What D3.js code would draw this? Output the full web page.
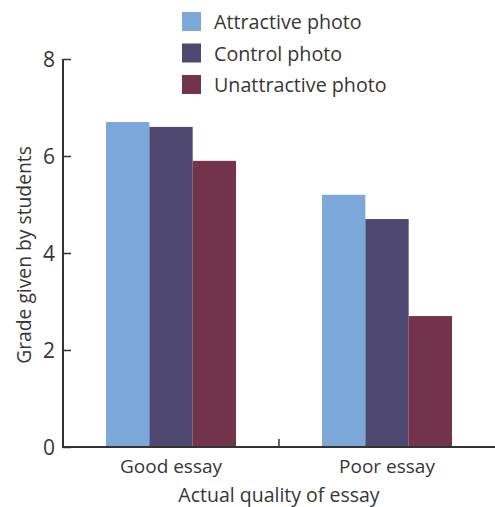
<!DOCTYPE html>
<html>
<head>
<meta charset="utf-8">
<script src="https://cdn.jsdelivr.net/npm/d3@7"></script>
<style>
  html, body { margin: 0; padding: 0; background: #fff; }
  text { font-family: "Open Sans", "Noto Sans", sans-serif; fill: #363636; }
</style>
</head>
<body>
<svg id="chart" width="495" height="507"></svg>
<script>
// Grades given to essays, grouped by essay quality and photo condition
const categories = ["Good essay", "Poor essay"];
const seriesNames = ["Attractive photo", "Control photo", "Unattractive photo"];
const attractive = [6.7, 5.2];
const control = [6.6, 4.7];
const unattractive = [5.9, 2.7];
const yTicks = [0, 2, 4, 6, 8];
const colors = ["#7BA7D9", "#4F4870", "#73334B"];

const seriesValues = [attractive, control, unattractive];

const svg = d3.select("#chart");
const margin = { left: 63, top: 59 };
const W = 495;
const plotBottom = 447;

const x0 = d3.scaleBand().domain(categories).range([margin.left, W]);
// each 3-bar group is about 130px wide, centred in its band
const groupW = 130;
const x1 = d3.scaleBand().domain(seriesNames)
  .range([(x0.bandwidth() - groupW) / 2, (x0.bandwidth() + groupW) / 2]);
const y = d3.scaleLinear().domain([0, 8]).range([plotBottom, margin.top]);

// bars
const groups = svg.append("g").selectAll("g")
  .data(categories)
  .join("g")
  .attr("transform", d => `translate(${x0(d)},0)`);

groups.selectAll("rect")
  .data((d, i) => seriesNames.map((s, j) => ({ s, j, v: seriesValues[j][i] })))
  .join("rect")
  .attr("x", d => x1(d.s))
  .attr("width", x1.bandwidth())
  .attr("y", d => y(d.v))
  .attr("height", d => y(0) - y(d.v))
  .attr("fill", d => colors[d.j]);

// y axis with inward ticks
const yAxis = d3.axisRight(y).tickValues(yTicks).tickSize(8).tickFormat(d3.format("d"));
const gy = svg.append("g").attr("transform", `translate(${margin.left},0)`).call(yAxis);
gy.select(".domain").attr("d", `M0,${y(8)}V${y(0)}`).attr("stroke", "#333").attr("stroke-width", 2);
gy.selectAll(".tick line").attr("stroke", "#333").attr("stroke-width", 1.5);
gy.selectAll(".tick text")
  .attr("x", -8).attr("text-anchor", "end")
  .attr("font-size", 21).attr("dy", "0.36em")
  .style("font-family", "'Open Sans', sans-serif").attr("fill", "#363636");

// x axis: baseline plus a divider tick between groups
const gx = svg.append("g").attr("transform", `translate(0,${plotBottom})`);
gx.append("line").attr("x1", margin.left - 1).attr("x2", W).attr("y1", 0).attr("y2", 0)
  .attr("stroke", "#333").attr("stroke-width", 2);
gx.append("line")
  .attr("x1", x0("Poor essay")).attr("x2", x0("Poor essay"))
  .attr("y1", 0).attr("y2", -8)
  .attr("stroke", "#333").attr("stroke-width", 1.5);
gx.selectAll("text.cat")
  .data(categories)
  .join("text")
  .attr("class", "cat")
  .attr("x", d => x0(d) + x0.bandwidth() / 2)
  .attr("y", 26)
  .attr("text-anchor", "middle")
  .attr("font-size", 19)
  .text(d => d);

// axis titles
svg.append("text")
  .attr("x", (margin.left + W) / 2)
  .attr("y", 502)
  .attr("text-anchor", "middle")
  .attr("font-size", 19.5)
  .text("Actual quality of essay");

svg.append("text")
  .attr("transform", `translate(31,${(y(8) + y(0)) / 2 + 2}) rotate(-90)`)
  .attr("text-anchor", "middle")
  .attr("font-size", 19.3)
  .text("Grade given by students");

// legend
const legend = svg.append("g").selectAll("g")
  .data(seriesNames)
  .join("g")
  .attr("transform", (d, i) => `translate(182,${12 + i * 31.5})`);
legend.append("rect").attr("width", 19).attr("height", 19).attr("fill", (d, i) => colors[i]);
legend.append("text").attr("x", 32).attr("y", 17).attr("font-size", 19.7).text(d => d);
</script>
</body>
</html>
